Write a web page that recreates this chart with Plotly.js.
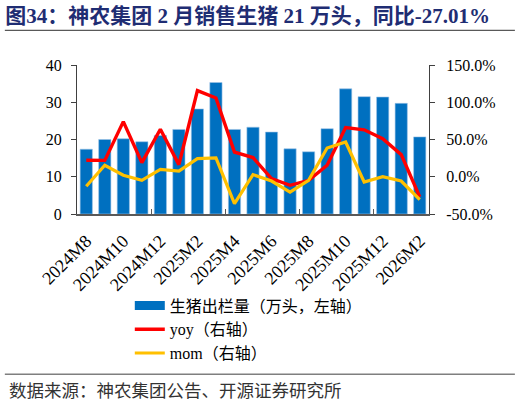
<!DOCTYPE html>
<html>
<head>
<meta charset="utf-8">
<script src="https://cdn.plot.ly/plotly-3.0.1.min.js"></script>
<style>
  html, body { margin: 0; padding: 0; background: #fff; }
  #chart { width: 522px; height: 405px; }
</style>
</head>
<body>
<div id="chart"></div>
<script>
const months = [
  "2024M8", "2024M9", "2024M10", "2024M11", "2024M12", "2025M1", "2025M2",
  "2025M3", "2025M4", "2025M5", "2025M6", "2025M7", "2025M8", "2025M9",
  "2025M10", "2025M11", "2025M12", "2026M1", "2026M2",
];
// 生猪出栏量（万头）
const hogSales = [
  17.4, 20.0, 20.2, 19.4, 21.1, 22.7, 28.2, 35.3, 22.7, 23.3,
  22.0, 17.5, 16.7, 22.9, 33.6, 31.5, 31.4, 29.7, 20.7,
];
// 同比（%）
const yoy = [
  22.1, 22.0, 74.0, 19.0, 63.7, 16.3, 115.6, 105.7, 33.2, 25.7,
  -2.5, -11.5, -4.8, 15.4, 66.0, 63.0, 51.0, 29.7, -27.0,
];
// 环比（%）
const mom = [
  -12.8, 15.4, 2.0, -4.8, 10.0, 7.7, 24.3, 25.2, -36.0, 2.9,
  -5.7, -20.5, -4.8, 38.6, 46.6, -7.0, 0.0, -5.7, -30.7,
];
const leftTicks = [0, 10, 20, 30, 40];
const rightTicks = [-50, 0, 50, 100, 150];
const rightTickText = ["-50.0%", "0.0%", "50.0%", "100.0%", "150.0%"];

const xIdx = months.map((m, i) => i);
const labelIdx = xIdx.filter((i) => i % 2 === 0);

const SERIF = "Liberation Serif, Noto Sans CJK SC, serif";

const data = [
  {
    type: "bar",
    x: xIdx,
    y: hogSales,
    width: 0.66,
    marker: { color: "#0070C0", line: { color: "#9DC3E6", width: 0.6 } },
    legendgroup: "bar",
    showlegend: false,
    yaxis: "y",
  },
  {
    // legend entry for the bars (wide swatch)
    type: "scatter",
    mode: "lines",
    x: [null],
    y: [null],
    name: "生猪出栏量（万头，左轴）",
    legendgroup: "bar",
    line: { color: "#0070C0", width: 9 },
  },
  {
    type: "scatter",
    mode: "lines",
    x: xIdx,
    y: yoy,
    name: "yoy（右轴）",
    line: { color: "#FF0000", width: 3.4 },
    yaxis: "y2",
  },
  {
    type: "scatter",
    mode: "lines",
    x: xIdx,
    y: mom,
    name: "mom（右轴）",
    line: { color: "#FFC000", width: 3.2 },
    yaxis: "y2",
  },
];

const layout = {
  width: 522,
  height: 405,
  paper_bgcolor: "#fff",
  plot_bgcolor: "#fff",
  font: { family: SERIF, size: 16, color: "#000" },
  margin: { l: 77, r: 93, t: 65, b: 191 },
  title: {
    text: "<b>图34：神农集团 2 月销售生猪 21 万头，同比-27.01%</b>",
    font: { family: SERIF, size: 21, color: "#1F2D73" },
    x: 0.01,
    xanchor: "left",
    y: 0.962,
    yanchor: "middle",
  },
  xaxis: {
    range: [-0.5, 18.5],
    tickmode: "array",
    tickvals: labelIdx,
    ticktext: labelIdx.map((i) => months[i]),
    tickangle: -45,
    ticks: "",
    ticklabelstandoff: 8,
    tickfont: { family: SERIF, size: 18, color: "#000" },
    showline: true,
    linecolor: "#595959",
    linewidth: 1.5,
    showgrid: false,
    zeroline: false,
    minor: {
      tickmode: "array",
      tickvals: [3.5, 7.5, 11.5, 15.5],
      ticks: "inside",
      ticklen: 5,
      tickcolor: "#595959",
      showgrid: false,
    },
  },
  yaxis: {
    range: [0, 40],
    tickmode: "array",
    tickvals: leftTicks,
    ticks: "outside",
    ticklen: 5,
    tickcolor: "#404040",
    ticklabelstandoff: 6,
    tickfont: { family: SERIF, size: 16, color: "#000" },
    showline: true,
    linecolor: "#404040",
    linewidth: 1,
    showgrid: false,
    zeroline: false,
  },
  yaxis2: {
    overlaying: "y",
    side: "right",
    range: [-50, 150],
    tickmode: "array",
    tickvals: rightTicks,
    ticktext: rightTickText,
    ticks: "outside",
    ticklen: 5,
    tickcolor: "#404040",
    ticklabelstandoff: 8,
    tickfont: { family: SERIF, size: 16, color: "#000" },
    showline: true,
    linecolor: "#404040",
    linewidth: 1,
    showgrid: false,
    zeroline: false,
  },
  showlegend: true,
  legend: {
    x: 0.15,
    xanchor: "left",
    y: -0.5,
    yanchor: "top",
    traceorder: "normal",
    bgcolor: "rgba(0,0,0,0)",
    font: { family: SERIF, size: 16, color: "#000" },
    tracegroupgap: 0,
    itemwidth: 30,
  },
  shapes: [
    {
      type: "line",
      xref: "paper",
      yref: "paper",
      x0: -0.205,
      x1: 1.244,
      y0: 1.233,
      y1: 1.233,
      line: { color: "#595959", width: 1.2 },
    },
    {
      type: "line",
      xref: "paper",
      yref: "paper",
      x0: -0.205,
      x1: 1.244,
      y0: -1.076,
      y1: -1.076,
      line: { color: "#7F7F7F", width: 1.5 },
    },
  ],
  annotations: [
    {
      text: "数据来源：神农集团公告、开源证券研究所",
      xref: "paper",
      yref: "paper",
      x: -0.2,
      xanchor: "left",
      y: -1.19,
      yanchor: "middle",
      showarrow: false,
      font: { family: SERIF, size: 17.5, color: "#333" },
    },
  ],
};

Plotly.newPlot("chart", data, layout, { displayModeBar: false, staticPlot: true });
</script>
</body>
</html>
